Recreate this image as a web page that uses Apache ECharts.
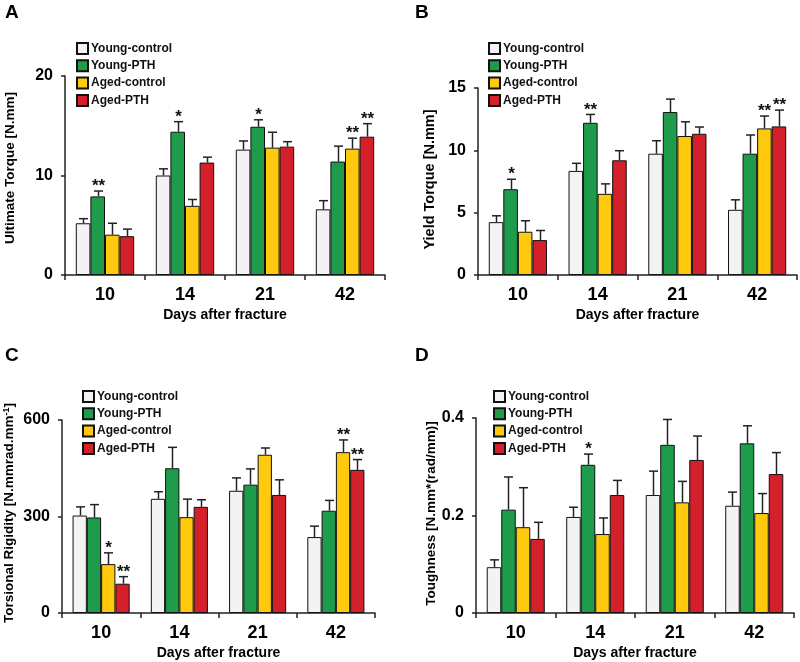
<!DOCTYPE html>
<html><head><meta charset="utf-8">
<script src="https://cdn.jsdelivr.net/npm/echarts@6/dist/echarts.min.js"></script>
<style>html,body{margin:0;padding:0;background:#fff}#c{width:800px;height:662px}</style>
</head><body><div id="c"></div>
<script>
// ---------- data ----------
const categories = ['10', '14', '21', '42'];
const seriesNames = ['Young-control', 'Young-PTH', 'Aged-control', 'Aged-PTH'];
const seriesColors = ['#f3f3f3', '#1e9c4c', '#ffc90e', '#d3202a'];

// A: Ultimate torque [N.mm]
const ultYC = [5.2, 10.0, 12.6, 6.6];
const ultYP = [7.9, 14.4, 14.9, 11.4];
const ultAC = [4.05, 6.95, 12.8, 12.7];
const ultAP = [3.9, 11.3, 12.9, 13.9];
const ultErrYC = [0.46, 0.67, 0.87, 0.87];
const ultErrYP = [0.54, 1.01, 0.7, 1.55];
const ultErrAC = [1.15, 0.64, 1.55, 1.05];
const ultErrAP = [0.71, 0.54, 0.5, 1.31];
const ultStarsYC = ['', '', '', ''];
const ultStarsYP = ['**', '*', '*', ''];
const ultStarsAC = ['', '', '', '**'];
const ultStarsAP = ['', '', '', '**'];

// B: Yield torque [N.mm]
const yldYC = [4.24, 8.35, 9.73, 5.23];
const yldYP = [6.88, 12.21, 13.07, 9.73];
const yldAC = [3.47, 6.51, 11.15, 11.76];
const yldAP = [2.8, 9.2, 11.33, 11.92];
const yldErrYC = [0.51, 0.61, 1.04, 0.8];
const yldErrYP = [0.8, 0.67, 1.04, 1.5];
const yldErrAC = [0.88, 0.8, 1.14, 0.99];
const yldErrAP = [0.77, 0.77, 0.54, 1.31];
const yldStarsYC = ['', '', '', ''];
const yldStarsYP = ['*', '**', '', ''];
const yldStarsAC = ['', '', '', '**'];
const yldStarsAP = ['', '', '', '**'];

// C: Torsional rigidity
const rigYC = [303, 355, 380, 236];
const rigYP = [297, 450, 399, 318];
const rigAC = [152, 298, 492, 500];
const rigAP = [91, 330, 367, 445];
const rigErrYC = [27, 22, 40, 34];
const rigErrYP = [40, 65, 49, 32];
const rigErrAC = [35, 56, 21, 38];
const rigErrAP = [22, 22, 47, 32];
const rigStarsYC = ['', '', '', ''];
const rigStarsYP = ['', '', '', ''];
const rigStarsAC = ['*', '', '', '**'];
const rigStarsAP = ['**', '', '', '**'];

// D: Toughness
const tghYC = [0.094, 0.197, 0.242, 0.22];
const tghYP = [0.212, 0.304, 0.345, 0.348];
const tghAC = [0.176, 0.162, 0.227, 0.205];
const tghAP = [0.152, 0.242, 0.314, 0.285];
const tghErrYC = [0.015, 0.02, 0.049, 0.028];
const tghErrYP = [0.067, 0.022, 0.052, 0.036];
const tghErrAC = [0.081, 0.033, 0.043, 0.04];
const tghErrAP = [0.034, 0.03, 0.049, 0.044];
const tghStarsYC = ['', '', '', ''];
const tghStarsYP = ['', '*', '', ''];
const tghStarsAC = ['', '', '', ''];
const tghStarsAP = ['', '', '', ''];

const yTicksA = {min: 0, max: 20, interval: 10};
const yTicksB = {min: 0, max: 15, interval: 5};
const yTicksC = {min: 0, max: 600, interval: 300};
const yTicksD = {min: 0, max: 0.4, interval: 0.2};

// ---------- layout / style ----------
const FONT = 'Liberation Sans, Arial, sans-serif';
const NUMFONT = 'Liberation Sans, Arial, sans-serif';
const GAP = 0.27;

const panels = [
  {letter: 'A', lx: 5, ly: 3, grid: {left: 65, top: 76, width: 320, height: 199}, ticks: yTicksA,
   name: 'Ultimate Torque [N.mm]', nameSize: 13.5, nameGap: 48, namePad: [0, 0, 0, 15], legend: {left: 76, top: 42},
   means: [ultYC, ultYP, ultAC, ultAP], errs: [ultErrYC, ultErrYP, ultErrAC, ultErrAP],
   stars: [ultStarsYC, ultStarsYP, ultStarsAC, ultStarsAP]},
  {letter: 'B', lx: 415, ly: 3, grid: {left: 478, top: 88, width: 319, height: 187}, ticks: yTicksB,
   name: 'Yield Torque [N.mm]', nameSize: 14.5, nameGap: 41, namePad: [0, 0, 0, 4], legend: {left: 488, top: 42},
   means: [yldYC, yldYP, yldAC, yldAP], errs: [yldErrYC, yldErrYP, yldErrAC, yldErrAP],
   stars: [yldStarsYC, yldStarsYP, yldStarsAC, yldStarsAP]},
  {letter: 'C', lx: 5, ly: 346, grid: {left: 62, top: 420, width: 313, height: 193}, ticks: yTicksC,
   name: 'Torsional Rigidity [N.mmrad.mm{sup|-1}]', nameSize: 13.5, nameGap: 45, namePad: [0, 0, 0, 7], legend: {left: 82, top: 390},
   means: [rigYC, rigYP, rigAC, rigAP], errs: [rigErrYC, rigErrYP, rigErrAC, rigErrAP],
   stars: [rigStarsYC, rigStarsYP, rigStarsAC, rigStarsAP]},
  {letter: 'D', lx: 415, ly: 346, grid: {left: 476, top: 418, width: 318, height: 195}, ticks: yTicksD,
   name: 'Toughness [N.mm*(rad/mm)]', nameSize: 13.5, nameGap: 38, namePad: [0, 0, 0, 4], legend: {left: 493, top: 390},
   means: [tghYC, tghYP, tghAC, tghAP], errs: [tghErrYC, tghErrYP, tghErrAC, tghErrAP],
   stars: [tghStarsYC, tghStarsYP, tghStarsAC, tghStarsAP]}
];

const option = {
  animation: false,
  backgroundColor: '#fff',
  grid: [], xAxis: [], yAxis: [], legend: [], series: [],
  graphic: []
};

panels.forEach((p, pi) => {
  option.grid.push(Object.assign({containLabel: false}, p.grid));
  option.graphic.push({type: 'text', left: p.lx, top: p.ly,
    style: {text: p.letter, font: 'bold 19px ' + NUMFONT, fill: '#000'}});
  option.xAxis.push({
    type: 'category', gridIndex: pi, data: categories,
    name: 'Days after fracture', nameLocation: 'middle', nameGap: 33,
    nameTextStyle: {fontFamily: FONT, fontWeight: 'bold', fontSize: 14, color: '#000'},
    axisLine: {lineStyle: {color: '#222', width: 1.5}},
    axisTick: {show: true, length: 5, lineStyle: {color: '#222', width: 1.5}},
    axisLabel: {fontFamily: NUMFONT, fontWeight: 'bold', fontSize: 18, color: '#000', margin: 11}
  });
  option.yAxis.push(Object.assign({
    type: 'value', gridIndex: pi,
    name: p.name, nameLocation: 'middle', nameGap: p.nameGap,
    nameTextStyle: {fontFamily: FONT, fontWeight: 'bold', fontSize: p.nameSize, color: '#000', padding: p.namePad,
      rich: {sup: {fontFamily: FONT, fontWeight: 'bold', fontSize: 9, color: '#000', verticalAlign: 'top', padding: [0, 0, 6, 0]}}},
    axisLine: {show: true, lineStyle: {color: '#222', width: 1.5}},
    axisTick: {show: true, length: 4, lineStyle: {color: '#222', width: 1.5}},
    splitLine: {show: false},
    axisLabel: {fontFamily: NUMFONT, fontWeight: 'bold', fontSize: 16, color: '#000', margin: 12}
  }, p.ticks));
  option.legend.push({
    orient: 'vertical', left: p.legend.left, top: p.legend.top, padding: 0,
    itemWidth: 11, itemHeight: 11, itemGap: 4.3, icon: 'rect',
    data: seriesNames,
    textStyle: {fontFamily: FONT, fontWeight: 'bold', fontSize: 12, color: '#111', lineHeight: 13, padding: [0, 0, 0, -2]}
  });
  seriesNames.forEach((nm, si) => {
    option.series.push({
      type: 'bar', name: nm, xAxisIndex: pi, yAxisIndex: pi,
      data: p.means[si], barGap: '0%', barCategoryGap: (GAP * 100) + '%',
      itemStyle: {color: seriesColors[si], borderColor: '#111', borderWidth: 1},
      z: 2
    });
  });
  seriesNames.forEach((nm, si) => {
    const starArr = p.stars[si];
    option.series.push({
      type: 'custom', name: nm + ' err', xAxisIndex: pi, yAxisIndex: pi, z: 5,
      data: p.means[si].map((m, ci) => [ci, m, m + p.errs[si][ci]]),
      encode: {x: 0, y: 2},
      renderItem: (params, api) => {
        const ci = api.value(0), m = api.value(1), top = api.value(2);
        const b = api.coord([ci, m]);
        const t = api.coord([ci, top]);
        const catW = api.size([1, 0])[0];
        const groupW = catW * (1 - GAP);
        const bw = groupW / 4;
        const x = Math.round(b[0] - groupW / 2 + (si + 0.5) * bw) + 0.5;
        const cap = 4.5;
        const children = [
          {type: 'line', shape: {x1: x, y1: b[1], x2: x, y2: t[1]}, style: {stroke: '#222', lineWidth: 1.5}},
          {type: 'line', shape: {x1: x - cap, y1: t[1], x2: x + cap, y2: t[1]}, style: {stroke: '#222', lineWidth: 1.5}}
        ];
        const s = starArr[params.dataIndex];
        if (s) {
          children.push({type: 'text', x: x, y: t[1] + 4,
            style: {text: s, font: 'bold 17px ' + NUMFONT, fill: '#111', align: 'center', verticalAlign: 'bottom'}});
        }
        return {type: 'group', children};
      }
    });
  });
});

const chart = echarts.init(document.getElementById('c'), null, {renderer: 'canvas'});
chart.setOption(option);
</script></body></html>
